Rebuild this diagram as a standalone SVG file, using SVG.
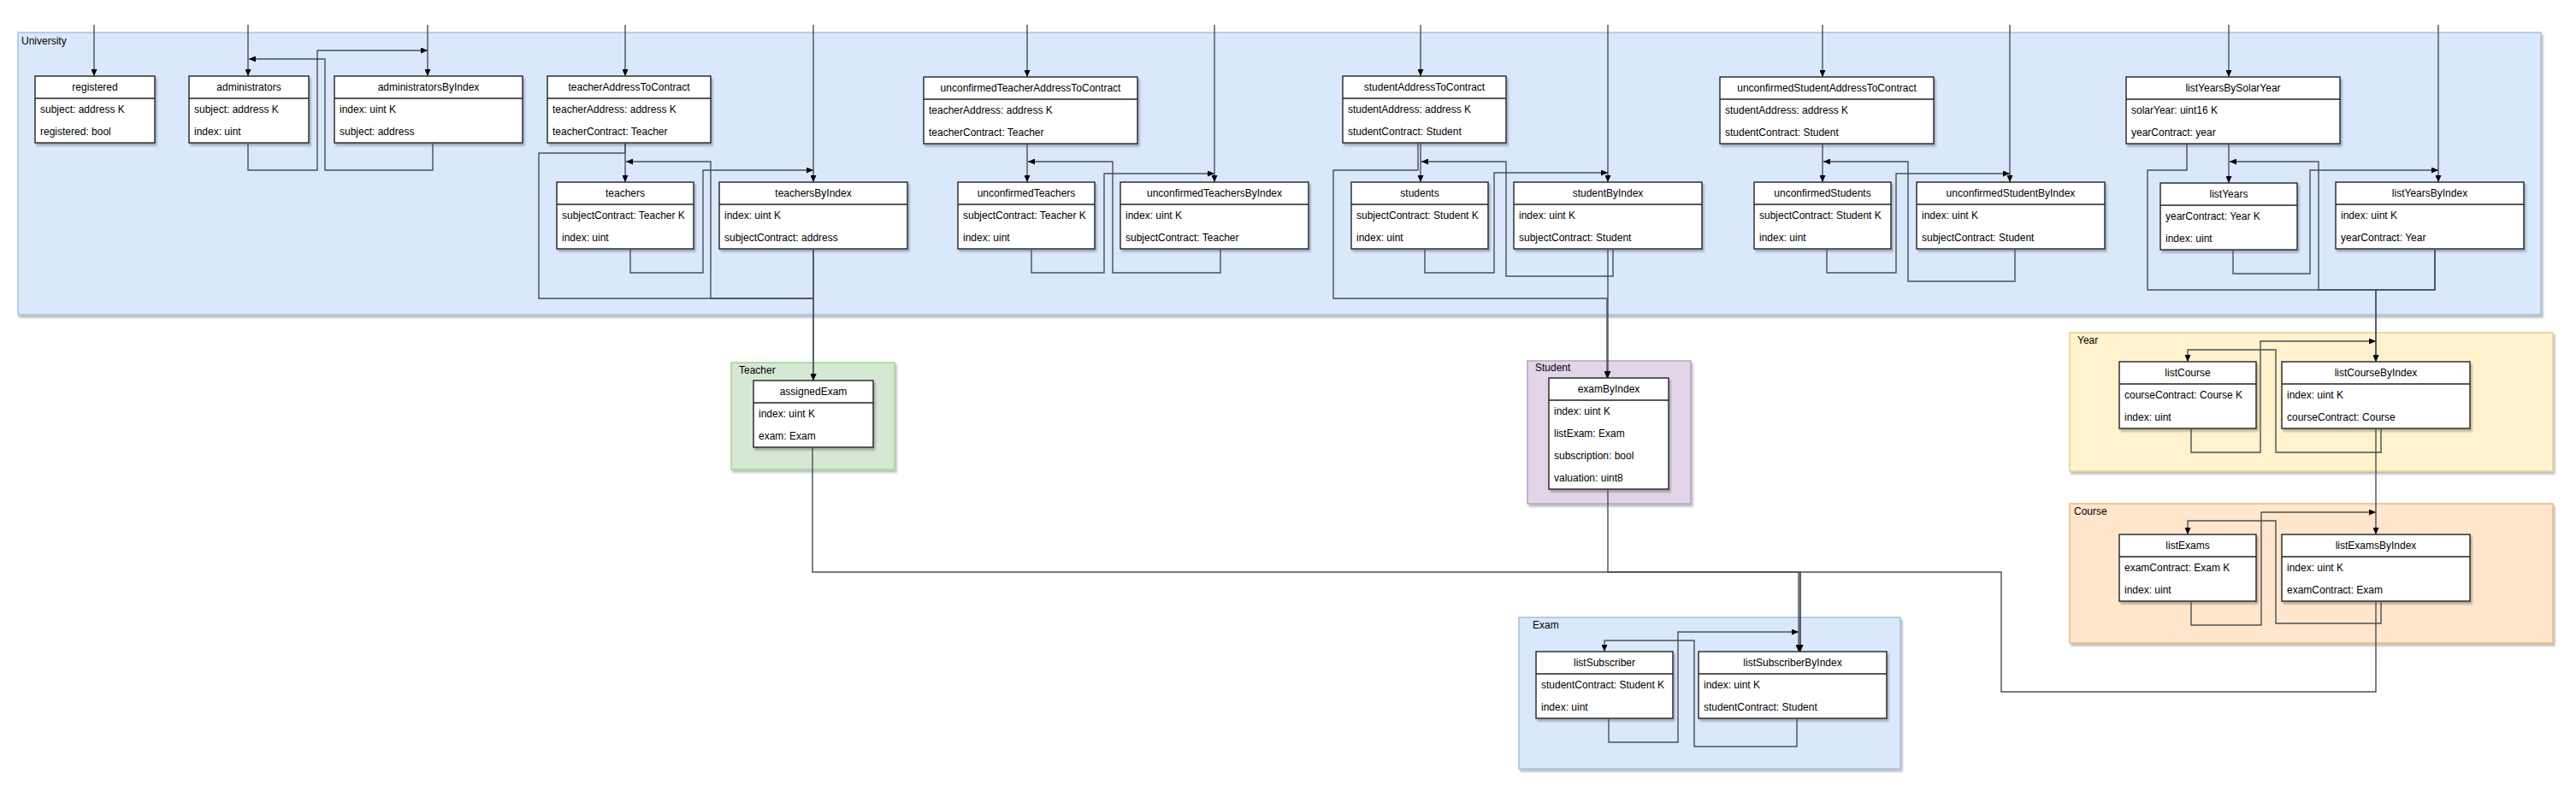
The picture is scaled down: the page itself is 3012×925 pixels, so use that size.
<svg xmlns="http://www.w3.org/2000/svg" width="3012" height="925" viewBox="0 0 3012 925">
<defs>
<marker id="arr" viewBox="0 0 8 7" refX="8" refY="3.5" markerWidth="8" markerHeight="7" markerUnits="userSpaceOnUse" orient="auto">
<path d="M0,0 L8,3.5 L0,7 z" fill="#000"/>
</marker>
<filter id="sh" x="-5%" y="-5%" width="115%" height="125%">
<feDropShadow dx="2" dy="3" stdDeviation="1.2" flood-color="#000" flood-opacity="0.25"/>
</filter>
</defs>
<style>
text{font-family:"Liberation Sans",Arial,sans-serif;font-size:12px;fill:#000}
.cont{filter:url(#sh);stroke-width:1.5}
.blue{fill:#dae8fc;stroke:#a6bfe0}
.green{fill:#d5e8d4;stroke:#a9cf98}
.purple{fill:#e1d5e7;stroke:#b9a1c7}
.yellow{fill:#fff2cc;stroke:#e6d08a}
.orange{fill:#ffe6cc;stroke:#e8b97a}
.box{fill:#fff;stroke:#222;stroke-width:1.4;filter:url(#sh)}
.hl{stroke:#222;stroke-width:1.4}
.h{text-anchor:middle}
.ca{fill:none;stroke:#4a4f57;stroke-width:1.4;marker-end:url(#arr)}
</style>
<rect width="3012" height="925" fill="#fff"/>

<g id="containers">
<g id="University"><rect class="cont blue" x="21" y="38" width="2950" height="330"/><text x="25" y="52">University</text></g>
<g id="Teacher"><rect class="cont green" x="855" y="424" width="191" height="125"/><text x="864" y="437">Teacher</text></g>
<g id="Student"><rect class="cont purple" x="1786" y="422" width="191" height="167"/><text x="1795" y="434">Student</text></g>
<g id="Year"><rect class="cont yellow" x="2420" y="389" width="565" height="162"/><text x="2429" y="402">Year</text></g>
<g id="Course"><rect class="cont orange" x="2420" y="589" width="565" height="163"/><text x="2425" y="602">Course</text></g>
<g id="Exam"><rect class="cont blue" x="1776" y="722" width="446" height="177"/><text x="1792" y="735">Exam</text></g>
</g>

<g id="registered" transform="translate(41,89)"><rect class="box" width="140" height="78"/><line class="hl" x1="0" y1="26" x2="140" y2="26"/><text class="h" x="70" y="17">registered</text><text x="6" y="43">subject: address K</text><text x="6" y="69">registered: bool</text></g>
<g id="administrators" transform="translate(221,89)"><rect class="box" width="140" height="78"/><line class="hl" x1="0" y1="26" x2="140" y2="26"/><text class="h" x="70" y="17">administrators</text><text x="6" y="43">subject: address K</text><text x="6" y="69">index: uint</text></g>
<g id="administratorsByIndex" transform="translate(391,89)"><rect class="box" width="220" height="78"/><line class="hl" x1="0" y1="26" x2="220" y2="26"/><text class="h" x="110" y="17">administratorsByIndex</text><text x="6" y="43">index: uint K</text><text x="6" y="69">subject: address</text></g>
<g id="teacherAddressToContract" transform="translate(640,89)"><rect class="box" width="191" height="78"/><line class="hl" x1="0" y1="26" x2="191" y2="26"/><text class="h" x="95.5" y="17">teacherAddressToContract</text><text x="6" y="43">teacherAddress: address K</text><text x="6" y="69">teacherContract: Teacher</text></g>
<g id="teachers" transform="translate(651,213)"><rect class="box" width="160" height="78"/><line class="hl" x1="0" y1="26" x2="160" y2="26"/><text class="h" x="80" y="17">teachers</text><text x="6" y="43">subjectContract: Teacher K</text><text x="6" y="69">index: uint</text></g>
<g id="teachersByIndex" transform="translate(841,213)"><rect class="box" width="220" height="78"/><line class="hl" x1="0" y1="26" x2="220" y2="26"/><text class="h" x="110" y="17">teachersByIndex</text><text x="6" y="43">index: uint K</text><text x="6" y="69">subjectContract: address</text></g>
<g id="unconfirmedTeacherAddressToContract" transform="translate(1080,90)"><rect class="box" width="250" height="78"/><line class="hl" x1="0" y1="26" x2="250" y2="26"/><text class="h" x="125" y="17">unconfirmedTeacherAddressToContract</text><text x="6" y="43">teacherAddress: address K</text><text x="6" y="69">teacherContract: Teacher</text></g>
<g id="unconfirmedTeachers" transform="translate(1120,213)"><rect class="box" width="160" height="78"/><line class="hl" x1="0" y1="26" x2="160" y2="26"/><text class="h" x="80" y="17">unconfirmedTeachers</text><text x="6" y="43">subjectContract: Teacher K</text><text x="6" y="69">index: uint</text></g>
<g id="unconfirmedTeachersByIndex" transform="translate(1310,213)"><rect class="box" width="220" height="78"/><line class="hl" x1="0" y1="26" x2="220" y2="26"/><text class="h" x="110" y="17">unconfirmedTeachersByIndex</text><text x="6" y="43">index: uint K</text><text x="6" y="69">subjectContract: Teacher</text></g>
<g id="studentAddressToContract" transform="translate(1570,89)"><rect class="box" width="191" height="78"/><line class="hl" x1="0" y1="26" x2="191" y2="26"/><text class="h" x="95.5" y="17">studentAddressToContract</text><text x="6" y="43">studentAddress: address K</text><text x="6" y="69">studentContract: Student</text></g>
<g id="students" transform="translate(1580,213)"><rect class="box" width="160" height="78"/><line class="hl" x1="0" y1="26" x2="160" y2="26"/><text class="h" x="80" y="17">students</text><text x="6" y="43">subjectContract: Student K</text><text x="6" y="69">index: uint</text></g>
<g id="studentByIndex" transform="translate(1770,213)"><rect class="box" width="220" height="78"/><line class="hl" x1="0" y1="26" x2="220" y2="26"/><text class="h" x="110" y="17">studentByIndex</text><text x="6" y="43">index: uint K</text><text x="6" y="69">subjectContract: Student</text></g>
<g id="unconfirmedStudentAddressToContract" transform="translate(2011,90)"><rect class="box" width="250" height="78"/><line class="hl" x1="0" y1="26" x2="250" y2="26"/><text class="h" x="125" y="17">unconfirmedStudentAddressToContract</text><text x="6" y="43">studentAddress: address K</text><text x="6" y="69">studentContract: Student</text></g>
<g id="unconfirmedStudents" transform="translate(2051,213)"><rect class="box" width="160" height="78"/><line class="hl" x1="0" y1="26" x2="160" y2="26"/><text class="h" x="80" y="17">unconfirmedStudents</text><text x="6" y="43">subjectContract: Student K</text><text x="6" y="69">index: uint</text></g>
<g id="unconfirmedStudentByIndex" transform="translate(2241,213)"><rect class="box" width="220" height="78"/><line class="hl" x1="0" y1="26" x2="220" y2="26"/><text class="h" x="110" y="17">unconfirmedStudentByIndex</text><text x="6" y="43">index: uint K</text><text x="6" y="69">subjectContract: Student</text></g>
<g id="listYearsBySolarYear" transform="translate(2486,90)"><rect class="box" width="250" height="78"/><line class="hl" x1="0" y1="26" x2="250" y2="26"/><text class="h" x="125" y="17">listYearsBySolarYear</text><text x="6" y="43">solarYear: uint16 K</text><text x="6" y="69">yearContract: year</text></g>
<g id="listYears" transform="translate(2526,214)"><rect class="box" width="160" height="78"/><line class="hl" x1="0" y1="26" x2="160" y2="26"/><text class="h" x="80" y="17">listYears</text><text x="6" y="43">yearContract: Year K</text><text x="6" y="69">index: uint</text></g>
<g id="listYearsByIndex" transform="translate(2731,213)"><rect class="box" width="220" height="78"/><line class="hl" x1="0" y1="26" x2="220" y2="26"/><text class="h" x="110" y="17">listYearsByIndex</text><text x="6" y="43">index: uint K</text><text x="6" y="69">yearContract: Year</text></g>
<g id="assignedExam" transform="translate(881,445)"><rect class="box" width="140" height="78"/><line class="hl" x1="0" y1="26" x2="140" y2="26"/><text class="h" x="70" y="17">assignedExam</text><text x="6" y="43">index: uint K</text><text x="6" y="69">exam: Exam</text></g>
<g id="examByIndex" transform="translate(1811,442)"><rect class="box" width="140" height="130"/><line class="hl" x1="0" y1="26" x2="140" y2="26"/><text class="h" x="70" y="17">examByIndex</text><text x="6" y="43">index: uint K</text><text x="6" y="69">listExam: Exam</text><text x="6" y="95">subscription: bool</text><text x="6" y="121">valuation: uint8</text></g>
<g id="listCourse" transform="translate(2478,423)"><rect class="box" width="160" height="78"/><line class="hl" x1="0" y1="26" x2="160" y2="26"/><text class="h" x="80" y="17">listCourse</text><text x="6" y="43">courseContract: Course K</text><text x="6" y="69">index: uint</text></g>
<g id="listCourseByIndex" transform="translate(2668,423)"><rect class="box" width="220" height="78"/><line class="hl" x1="0" y1="26" x2="220" y2="26"/><text class="h" x="110" y="17">listCourseByIndex</text><text x="6" y="43">index: uint K</text><text x="6" y="69">courseContract: Course</text></g>
<g id="listExams" transform="translate(2478,625)"><rect class="box" width="160" height="78"/><line class="hl" x1="0" y1="26" x2="160" y2="26"/><text class="h" x="80" y="17">listExams</text><text x="6" y="43">examContract: Exam K</text><text x="6" y="69">index: uint</text></g>
<g id="listExamsByIndex" transform="translate(2668,625)"><rect class="box" width="220" height="78"/><line class="hl" x1="0" y1="26" x2="220" y2="26"/><text class="h" x="110" y="17">listExamsByIndex</text><text x="6" y="43">index: uint K</text><text x="6" y="69">examContract: Exam</text></g>
<g id="listSubscriber" transform="translate(1796,762)"><rect class="box" width="160" height="78"/><line class="hl" x1="0" y1="26" x2="160" y2="26"/><text class="h" x="80" y="17">listSubscriber</text><text x="6" y="43">studentContract: Student K</text><text x="6" y="69">index: uint</text></g>
<g id="listSubscriberByIndex" transform="translate(1986,762)"><rect class="box" width="220" height="78"/><line class="hl" x1="0" y1="26" x2="220" y2="26"/><text class="h" x="110" y="17">listSubscriberByIndex</text><text x="6" y="43">index: uint K</text><text x="6" y="69">studentContract: Student</text></g>

<g id="connectors">
<path class="ca" d="M110,29 V89"/>
<path class="ca" d="M290,29 V89"/>
<path class="ca" d="M500,29 V89"/>
<path class="ca" d="M731,29 V89"/>
<path class="ca" d="M951,29 V213"/>
<path class="ca" d="M1201,29 V90"/>
<path class="ca" d="M1420,29 V213"/>
<path class="ca" d="M1661,29 V89"/>
<path class="ca" d="M1880,29 V213"/>
<path class="ca" d="M2131,29 V90"/>
<path class="ca" d="M2350,29 V213"/>
<path class="ca" d="M2606,29 V90"/>
<path class="ca" d="M2851,29 V213"/>

<path class="ca" d="M290,167 V199 H371 V59 H500"/>
<path class="ca" d="M506,167 V199 H380 V69 H291"/>

<path class="ca" d="M731,167 V213"/>
<path class="ca" d="M737,291 V319 H822 V199 H951"/>
<path class="ca" d="M951,291 V349 H831 V189 H732"/>
<path class="ca" d="M731,167 V179 H630 V349 H951 V445"/>
<path class="ca" d="M951,291 V445"/>

<path class="ca" d="M1201,168 V213"/>
<path class="ca" d="M1206,291 V319 H1291 V203 H1420"/>
<path class="ca" d="M1427,291 V319 H1301 V189 H1202"/>

<path class="ca" d="M1661,167 V213"/>
<path class="ca" d="M1666,291 V319 H1747 V202 H1880"/>
<path class="ca" d="M1886,291 V323 H1761 V189 H1662"/>
<path class="ca" d="M1658,167 V199 H1559 V349 H1879 V442"/>
<path class="ca" d="M1880,291 V442"/>

<path class="ca" d="M2131,168 V213"/>
<path class="ca" d="M2136,291 V319 H2217 V203 H2350"/>
<path class="ca" d="M2356,291 V329 H2231 V189 H2132"/>

<path class="ca" d="M2606,168 V214"/>
<path class="ca" d="M2611,292 V320 H2701 V199 H2851"/>
<path class="ca" d="M2847,291 V339 H2711 V189 H2607"/>
<path class="ca" d="M2557,168 V199 H2511 V339 H2778 V423"/>
<path class="ca" d="M2847,291 V339 H2778 V423"/>

<path class="ca" d="M2562,501 V529 H2643 V399 H2778"/>
<path class="ca" d="M2784,501 V529 H2661 V409 H2558 V423"/>
<path class="ca" d="M2778,501 V625"/>

<path class="ca" d="M2562,703 V731 H2644 V599 H2778"/>
<path class="ca" d="M2784,703 V729 H2661 V609 H2558 V625"/>
<path class="ca" d="M2778,703 V809 H2340 V669 H2105 V762"/>

<path class="ca" d="M950,523 V669 H2103 V762"/>
<path class="ca" d="M1880,572 V669 H2105 V762"/>

<path class="ca" d="M1881,840 V868 H1962 V739 H2103"/>
<path class="ca" d="M2101,840 V873 H1981 V749 H1876 V762"/>
</g>
</svg>
